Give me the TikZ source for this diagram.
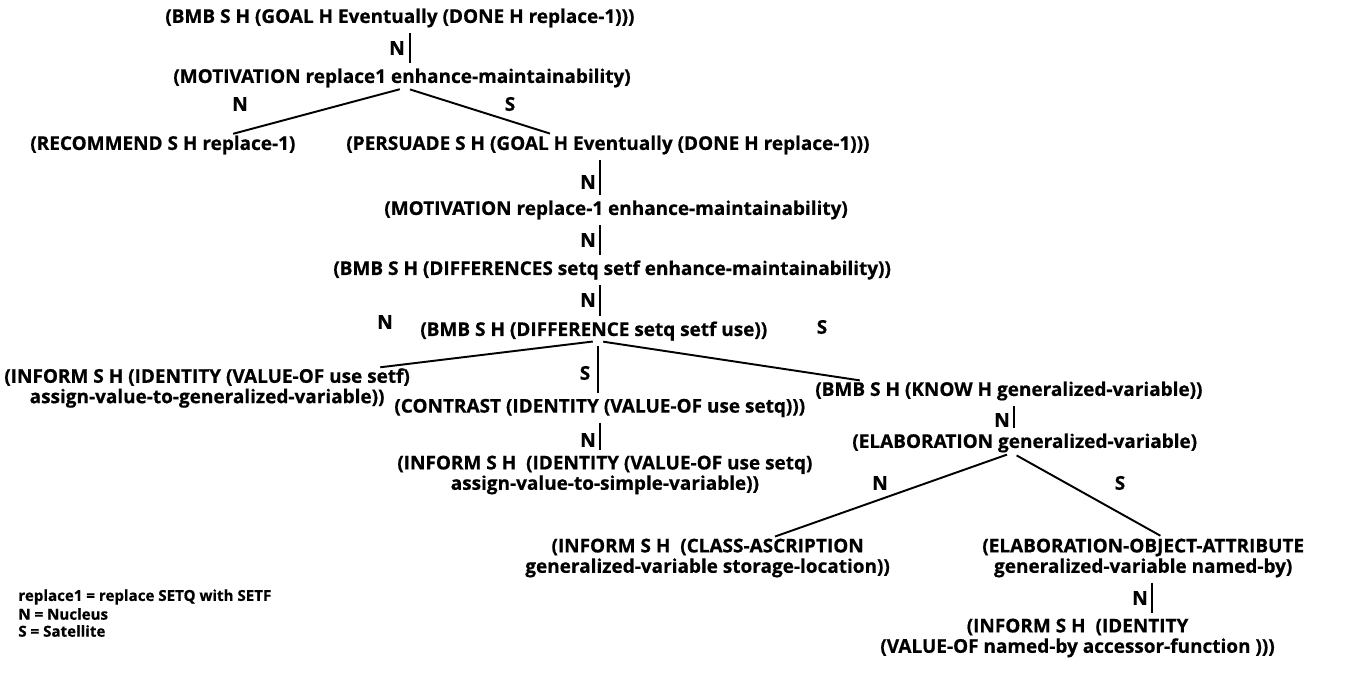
\documentclass[tikz,border=0pt]{standalone}
\usepackage{fontspec}
\setmainfont{Open Sans}[BoldFeatures={FakeBold=0.6}]
\usetikzlibrary{calc}

\tikzset{
  rel/.style={font=\bfseries\fontsize{10.8}{11.6}\selectfont, inner sep=0pt, align=center, anchor=west},
  nslab/.style={font=\bfseries\fontsize{10.8}{11.6}\selectfont, inner sep=0pt},
  arc/.style={line width=1.1pt, shorten <=3pt, shorten >=3pt},
  keytext/.style={font=\bfseries\fontsize{8.6}{10}\selectfont, inner sep=0pt, anchor=west}
}

\begin{document}
\begin{tikzpicture}[x=0.02cm, y=-0.02cm]
			\useasboundingbox (0,0) rectangle (1346,680);
			% tree of relations
			\node[rel] (goal) at (165,18) {(BMB S H (GOAL H Eventually (DONE H replace-1)))};
			\node[rel] (mot) at (173,78) {(MOTIVATION replace1 enhance-maintainability)};
			\node[rel] (rec) at (30,145) {(RECOMMEND S H replace-1)};
			\node[rel] (pers) at (346,145) {(PERSUADE S H (GOAL H Eventually (DONE H replace-1)))};
			\node[rel] (mottwo) at (384,210) {(MOTIVATION replace-1 enhance-maintainability)};
			\node[rel] (diffs) at (333,270) {(BMB S H (DIFFERENCES setq setf enhance-maintainability))};
			\node[rel] (diff) at (420,331) {(BMB S H (DIFFERENCE setq setf use))};
			\node[rel] (infgen) at (4,388) {(INFORM S H (IDENTITY (VALUE-OF use setf)\\assign-value-to-generalized-variable))};
			\node[rel] (contr) at (394,408) {(CONTRAST (IDENTITY (VALUE-OF use setq)))};
			\node[rel] (infsim) at (397,475) {(INFORM S H\ \ (IDENTITY (VALUE-OF use setq)\\assign-value-to-simple-variable))};
			\node[rel] (know) at (815,391) {(BMB S H (KNOW H generalized-variable))};
			\node[rel] (elab) at (852,443) {(ELABORATION generalized-variable)};
			\node[rel] (class) at (525,558) {(INFORM S H\ \ (CLASS-ASCRIPTION\\generalized-variable storage-location))};
			\node[rel] (eoa) at (982,558) {(ELABORATION-OBJECT-ATTRIBUTE\\generalized-variable named-by)};
			\node[rel] (infacc) at (880,638) {(INFORM S H\ \ (IDENTITY\\(VALUE-OF named-by accessor-function )))};
			% connectors
			\draw[arc] ($(goal.south west)+(245,0)$) -- ($(mot.north west)+(237,0)$);
			\draw[arc] ($(mot.south west)+(232,0)$) -- ($(rec.north west)+(198,0)$);
			\draw[arc] ($(mot.south west)+(232,0)$) -- ($(pers.north west)+(209,0)$);
			\draw[arc] ($(pers.south west)+(254,0)$) -- ($(mottwo.north west)+(216,0)$);
			\draw[arc] ($(mottwo.south west)+(216,0)$) -- ($(diffs.north west)+(267,0)$);
			\draw[arc] ($(diffs.south west)+(267,0)$) -- ($(diff.north west)+(180,0)$);
			\draw[arc] ($(diff.south west)+(178,0)$) -- ($(infgen.north west)+(371,0)$);
			\draw[arc] ($(diff.south west)+(178,0)$) -- ($(know.north west)+(50,0)$);
			\draw[arc] ($(diff.south west)+(178,0)$) -- ($(contr.north west)+(204,0)$);
			\draw[arc] ($(contr.south west)+(206,0)$) -- ($(infsim.north west)+(203,0)$);
			\draw[arc] ($(know.south west)+(199,0)$) -- ($(elab.north west)+(162,0)$);
			\draw[arc] ($(elab.south west)+(160,0)$) -- ($(class.north west)+(245,0)$);
			\draw[arc] ($(elab.south west)+(160,0)$) -- ($(eoa.north west)+(183,0)$);
			\draw[arc] ($(eoa.south west)+(170,0)$) -- ($(infacc.north west)+(272,0)$);
			% nucleus / satellite marks
			\node[nslab] (na) at (397,48) {N};
			\node[nslab] (nb) at (240,104) {N};
			\node[nslab] (sb) at (510,104) {S};
			\node[nslab] (nc) at (588,182) {N};
			\node[nslab] (nd) at (588,240) {N};
			\node[nslab] (ne) at (588,300) {N};
			\node[nslab] (nf) at (385,322) {N};
			\node[nslab] (sf) at (822,327) {S};
			\node[nslab] (sg) at (585,373) {S};
			\node[nslab] (nh) at (588,440) {N};
			\node[nslab] (ni) at (1002,420) {N};
			\node[nslab] (nj) at (880,483) {N};
			\node[nslab] (sj) at (1120,483) {S};
			\node[nslab] (nk) at (1140,598) {N};
			% key
			\node[keytext] (keya) at (18,597) {replace1 = replace SETQ with SETF};
			\node[keytext] (keyb) at (18,614) {N = Nucleus};
			\node[keytext] (keyc) at (18,631) {S = Satellite};
		\end{tikzpicture}
\end{document}
